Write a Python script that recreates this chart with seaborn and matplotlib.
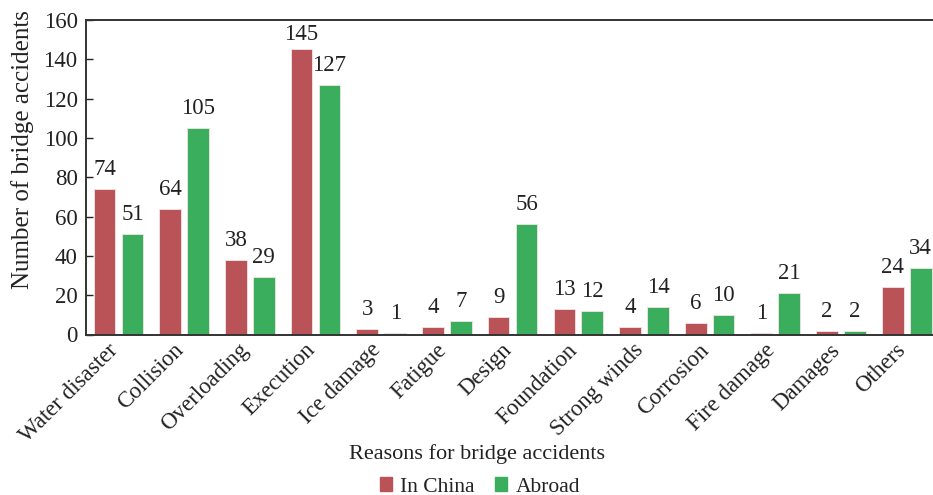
import matplotlib
matplotlib.use("Agg")
import matplotlib.pyplot as plt
import matplotlib.transforms as mtransforms
import seaborn as sns
import pandas as pd

# Bridge accident counts by cause
reasons = ["Water disaster", "Collision", "Overloading", "Execution", "Ice damage",
           "Fatigue", "Design", "Foundation", "Strong winds", "Corrosion",
           "Fire damage", "Damages", "Others"]
in_china = [74, 64, 38, 145, 3, 4, 9, 13, 4, 6, 1, 2, 24]
abroad = [51, 105, 29, 127, 1, 7, 56, 12, 14, 10, 21, 2, 34]
series_names = ["In China", "Abroad"]
y_ticks = [0, 20, 40, 60, 80, 100, 120, 140, 160]

df = pd.DataFrame({
    "reason": reasons * 2,
    "count": in_china + abroad,
    "region": [series_names[0]] * len(reasons) + [series_names[1]] * len(reasons),
})

sns.set_theme(style="white")
plt.rcParams["font.family"] = ["Liberation Serif", "DejaVu Serif"]
text_color = "#222222"
plt.rcParams["text.color"] = text_color
plt.rcParams["axes.labelcolor"] = text_color
plt.rcParams["xtick.color"] = text_color
plt.rcParams["ytick.color"] = text_color

fs = 16.5
y_max = 160

fig = plt.figure(figsize=(9.33, 4.95), dpi=100)
ax = fig.add_axes([86 / 933, 1 - 334.5 / 495, (933 - 86) / 933, (334.5 - 20) / 495])

palette = {"In China": "#b95357", "Abroad": "#3aae5c"}
sns.barplot(data=df, x="reason", y="count", hue="region", order=reasons,
            hue_order=series_names, palette=palette, width=0.85, gap=0.225,
            edgecolor="#f2e6e6", linewidth=0.6, saturation=1, ax=ax,
            errorbar=None)

# value labels; the tallest one sits a little closer so it clears the top frame
for cont in ax.containers:
    labels = ax.bar_label(cont, fmt="%d", padding=6.5, fontsize=fs, color=text_color)
    for bar, lab in zip(cont, labels):
        if bar.get_height() > 0.85 * y_max:
            lab.xyann = (0, 3)

ax.set_xlim(-0.495, 12.4)
ax.set_ylim(0, y_max)
ax.set_yticks(y_ticks)
ax.tick_params(axis="y", direction="in", length=5, width=1, labelsize=fs, pad=6,
               left=True)
ax.tick_params(axis="x", length=0, labelsize=fs, pad=9)
shift = mtransforms.ScaledTranslation(-4 / 100, 0, fig.dpi_scale_trans)
for lab in ax.get_xticklabels():
    lab.set_rotation(45)
    lab.set_ha("right")
    lab.set_va("center")
    lab.set_rotation_mode("anchor")
    lab.set_transform(lab.get_transform() + shift)

for side in ["left", "top", "bottom"]:
    ax.spines[side].set_color("#333333")
    ax.spines[side].set_linewidth(1.4)
ax.spines["right"].set_visible(False)

ax.set_xlabel("Reasons for bridge accidents", fontsize=16)
ax.xaxis.set_label_coords(477 / 933, 1 - 444 / 495, transform=fig.transFigure)
ax.set_ylabel("Number of bridge accidents", fontsize=18)
ax.yaxis.set_label_coords(34 / 933, 1 - 150 / 495, transform=fig.transFigure)

ax.get_legend().remove()
handles = [plt.Rectangle((0, 0), 1, 1, color=palette[n]) for n in series_names]
fig.legend(handles, series_names, loc="center", ncol=2, frameon=False,
           bbox_to_anchor=(480 / 933, 1 - 487 / 495), fontsize=15.5,
           handlelength=0.55, handleheight=0.6, handletextpad=0.4,
           columnspacing=0.95, borderpad=0, borderaxespad=0)

fig.savefig("out.png", dpi=100)
